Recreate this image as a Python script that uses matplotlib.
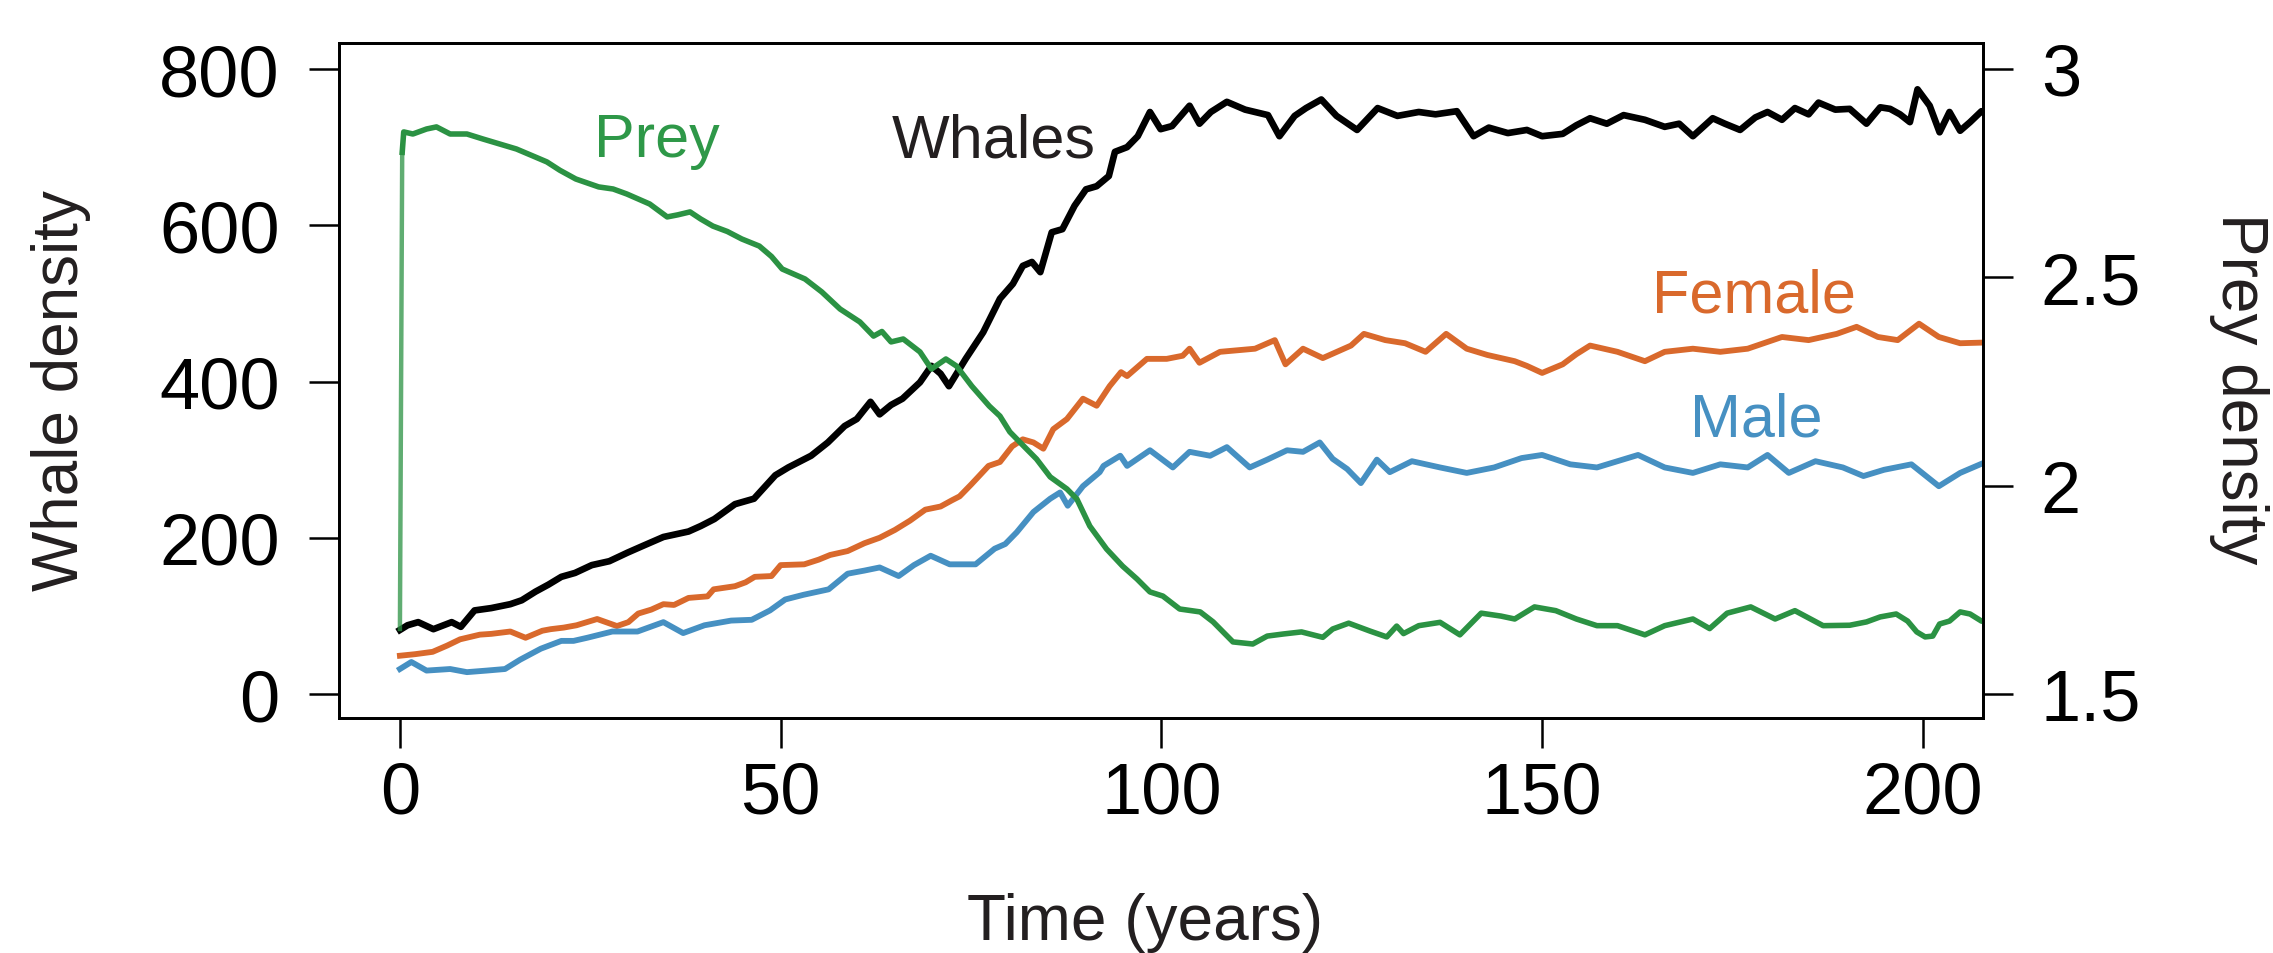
import numpy as np
import matplotlib.pyplot as plt

plt.rcParams['font.family'] = ['Liberation Sans', 'DejaVu Sans']

# whales (total)
whale_t = [0, 1, 2.4, 4.4, 6.8, 8, 9.8, 12, 14.5, 16, 17.8, 19.5, 21.2, 23, 25.2, 27.5, 29.9,
           32, 34.6, 37.9, 39.5, 41.3, 44, 46.5, 49.3, 51, 52.4, 54, 56.2, 58.4, 60, 61.8, 63,
           64.5, 66, 68.3, 69.8, 71, 72.1, 74.3, 76.6, 78.8, 80.5, 81.8, 83, 84.1, 85.6, 87,
           88.6, 90.1, 91.5, 93.1, 93.9, 95.5, 96.9, 98.5, 99.9, 101.4, 103.7, 105, 106.5,
           108.6, 111, 114, 115.5, 117.5, 119, 121, 123, 125.7, 128.4, 131, 133.8, 136, 138.8,
           141, 143, 145.5, 148, 150, 152.7, 154.5, 156.3, 158.5, 160.7, 163.5, 166.1, 168,
           169.8, 172.4, 174, 176, 178, 179.6, 181.5, 183.2, 185, 186.3, 188.5, 190.4, 192.6,
           194.4, 195.7, 197, 198.3, 199.3, 200.9, 202.2, 203.5, 204.9, 206.2, 207.7, 208.5]
whale_v = [82, 88, 92, 83, 92, 86, 107, 110, 115, 120, 131, 140, 150, 155, 165, 170, 181,
           190, 201, 208, 215, 224, 243, 250, 280, 290, 297, 305, 322, 343, 352, 374, 358,
           370, 378, 399, 420, 410, 394, 429, 463, 506, 525, 548, 553, 540, 591, 595,
           625, 646, 650, 663, 694, 700, 714, 745, 723, 727, 753, 730, 745,
           758, 748, 741, 714, 740, 750, 761, 740, 722, 750, 740, 745, 742, 746,
           714, 725, 718, 722, 714, 717, 728, 737, 730, 741, 735, 726, 730,
           714, 737, 730, 722, 738, 745, 735, 750, 742, 757, 748, 749, 730,
           751, 749, 742, 732, 774, 753, 719, 745, 721, 732, 746, 740]

# prey density (right axis)
prey_t = [0, 0.3, 0.5, 1.7, 3.5, 4.8, 6.6, 8.8, 10.9, 13.1, 15.3, 17.5, 19.3, 21, 23.1, 26.1,
          28, 29.8, 32.8, 35.1, 36.5, 38.1, 39.5, 41.1, 43, 44.9, 47.2, 48.8, 50.2, 53.2,
          55.4, 57.8, 60.4, 62.2, 63.3, 64.5, 66.1, 68.3, 69.8, 71.7, 73.1, 75.1, 77.4, 78.8,
          80.1, 82.3, 83.6, 85.4, 87.6, 88.9, 90.6, 92.8, 94.9, 96.8, 98.5, 100.2, 102.4,
          105.1, 106.8, 109.4, 112, 113.9, 116, 118.4, 121.2, 122.5, 124.6, 127.4, 129.6,
          130.9, 131.8, 133.8, 136.6, 139.2, 142, 144.6, 146.4, 149, 151.8, 154.5, 157.2,
          159.9, 163.5, 166.1, 169.8, 172, 174.3, 177.4, 180.6, 183.2, 186.9, 190.4, 192.6,
          194.4, 196.5, 198, 199.2, 200.3, 201.3, 202.2, 203.5, 204.9, 206.2, 207.7, 208.5]
prey_v = [1.656, 2.80, 2.849, 2.844, 2.856, 2.861, 2.844, 2.844, 2.832, 2.82, 2.808, 2.791,
          2.777, 2.757, 2.736, 2.717, 2.712, 2.70, 2.676, 2.645, 2.650, 2.657, 2.64, 2.623,
          2.61, 2.592, 2.575, 2.55, 2.52, 2.496, 2.465, 2.424, 2.393, 2.359, 2.37, 2.345,
          2.352, 2.321, 2.28, 2.304, 2.287, 2.239, 2.191, 2.167, 2.129, 2.088, 2.064, 2.021,
          1.992, 1.968, 1.903, 1.848, 1.807, 1.776, 1.745, 1.735, 1.704, 1.697, 1.673, 1.625,
          1.62, 1.639, 1.644, 1.649, 1.636, 1.656, 1.670, 1.651, 1.637, 1.663, 1.645, 1.664,
          1.672, 1.642, 1.694, 1.687, 1.68, 1.709, 1.70, 1.68, 1.664, 1.664, 1.642, 1.664,
          1.68, 1.657, 1.694, 1.709, 1.68, 1.70, 1.664, 1.665, 1.673, 1.685, 1.692, 1.675,
          1.649, 1.637, 1.639, 1.668, 1.675, 1.697, 1.692, 1.675, 1.672]

# females
female_t = [0, 2, 4.3, 6.2, 7.9, 10.5, 12, 14.5, 16.5, 18.7, 19.8, 21.5, 23.2, 25.9, 28.5, 30,
            31.3, 33, 34.6, 36, 37.9, 40.4, 41.2, 44, 45.4, 46.6, 48.8, 50, 53.1, 55, 56.5,
            58.8, 61, 63, 65, 67, 69, 71, 72.5, 73.5, 75, 77.3, 78.8, 80.4, 81.8, 83.2, 84.5,
            85.8, 87.6, 89.7, 91.5, 93.2, 94.7, 95.5, 98.1, 100.7, 102.8, 103.7, 105, 107.7,
            110, 112.3, 114.9, 116.3, 118.6, 121.2, 124.9, 126.6, 129.4, 132, 134.7, 137.4,
            140.1, 142.8, 146.4, 148, 150, 152.7, 154.5, 156.3, 159.9, 163.5, 166.1, 169.8,
            173.4, 177, 181.5, 185, 188.7, 191.3, 194.1, 196.7, 199.5, 202.1, 204.9, 208.5]
female_v = [49, 51, 54, 62, 70, 76, 77, 80, 72, 81, 83, 85, 88, 96, 87, 92,
            103, 108, 115, 114, 123, 125, 134, 138, 143, 150, 151, 165, 166, 172, 178,
            183, 193, 200, 210, 222, 236, 240, 248, 253, 268, 292, 297, 317, 326, 322, 314,
            339, 352, 378, 369, 394, 412, 407, 429, 429, 433, 442, 424, 438,
            440, 442, 453, 422, 442, 430, 446, 461, 453, 449, 438, 461,
            442, 434, 426, 420, 411, 422, 435, 446, 438, 426, 438, 442,
            438, 442, 457, 453, 461, 470, 457, 453, 474, 457, 449, 450]

# males
male_t = [0, 1.5, 3.5, 6.6, 8.8, 11.4, 13.8, 15.8, 18.5, 21.2, 22.8, 24.6, 27.9, 31.2, 34.6,
          37.2, 40, 43.5, 46.2, 48.6, 50.6, 53, 56.3, 58.8, 61, 63, 65.5, 67.5, 69.7, 72.2,
          75.6, 78.1, 79.5, 81, 83.2, 85.4, 86.7, 87.7, 89.7, 91.9, 92.4, 94.6, 95.5, 98.5,
          101.5, 103.7, 106.4, 108.6, 111.6, 113.9, 116.5, 118.6, 120.8, 122.5, 124.4, 126.2,
          128.3, 130, 132.9, 136.6, 140.1, 143.7, 147.3, 150, 153.7, 157.2, 162.6, 166.1,
          169.8, 173.4, 177, 179.6, 182.4, 185.9, 189.5, 192.2, 194.9, 198.5, 202.1, 204.9,
          208.5]
male_v = [32, 41, 30, 32, 28, 30, 32, 44, 58, 68, 68, 72, 80, 80, 92,
          78, 88, 94, 95, 107, 121, 127, 134, 154, 158, 162, 151, 165, 177, 166,
          166, 186, 192, 207, 233, 250, 258, 241, 266, 284, 292, 305, 292, 312,
          290, 310, 305, 316, 290, 300, 312, 310, 322, 301, 288, 270,
          300, 284, 298, 290, 283, 290, 302, 306, 294, 290, 306, 290,
          283, 294, 290, 306, 283, 298, 290, 279, 287, 294, 266, 283,
          298]

x_ticks = [0, 50, 100, 150, 200]
whale_ticks = [0, 200, 400, 600, 800]
prey_ticks = [1.5, 2, 2.5, 3]
prey_ticklabels = ['1.5', '2', '2.5', '3']

green = '#2b9243'
orange = '#d9692c'
blue = '#4690c2'
label_grey = '#231f20'

W, H = 2273, 954
fig = plt.figure(figsize=(W / 100, H / 100), dpi=100)
ax = fig.add_axes([339 / W, 1 - 719 / H, (1983 - 339) / W, (719 - 44) / H])
ax2 = ax.twinx()

ax.plot(whale_t, whale_v, color='black', lw=4.8, solid_joinstyle='round')
ax.plot(female_t, female_v, color=orange, lw=4.2, solid_joinstyle='round')
ax.plot(male_t, male_v, color=blue, lw=4.2, solid_joinstyle='round')
# the initial jump of the prey is drawn paler in the original
ax2.plot(prey_t[:2], prey_v[:2], color=green, lw=3.2, alpha=0.75)
ax2.plot(prey_t[1:], prey_v[1:], color=green, lw=4.0, solid_joinstyle='round')

ax.set_xlim(-8.0, 207.9)
ax.set_ylim(-30.7, 833.3)
ax2.set_ylim(1.4424, 3.0624)

ax.set_xticks(x_ticks)
ax.set_yticks(whale_ticks)
ax2.set_yticks(prey_ticks)
ax2.set_yticklabels(prey_ticklabels)

for a in (ax, ax2):
    for s in a.spines.values():
        s.set_linewidth(2.0)
ax.tick_params(axis='both', direction='out', length=21.6, width=1.8, labelsize=52,
               colors='black')
ax.tick_params(axis='y', pad=21)
ax.tick_params(axis='x', pad=9)
ax2.tick_params(axis='y', direction='out', length=21.6, width=1.8, labelsize=52, pad=20)

ax.set_ylabel('Whale density', fontsize=46, color=label_grey, va='center')
ax.yaxis.set_label_coords(-0.1692, 0.487)
ax.set_xlabel('Time (years)', fontsize=46, color=label_grey, va='center')
ax.xaxis.set_label_coords(0.4906, -0.3015)
ax2.set_ylabel('Prey density', fontsize=46, color=label_grey, rotation=270, va='center')
ax2.yaxis.set_label_coords(1.1557, 0.489)

ax.text(33.75, 688.6, 'Prey', color='#2e9848', fontsize=44, ha='center', va='baseline')
ax.text(78.0, 688.6, 'Whales', color=label_grey, fontsize=44, ha='center', va='baseline')
ax.text(177.8, 489, 'Female', color=orange, fontsize=44, ha='center', va='baseline')
ax.text(178.1, 330.6, 'Male', color=blue, fontsize=44, ha='center', va='baseline')

fig.savefig('out.png', dpi=100)
